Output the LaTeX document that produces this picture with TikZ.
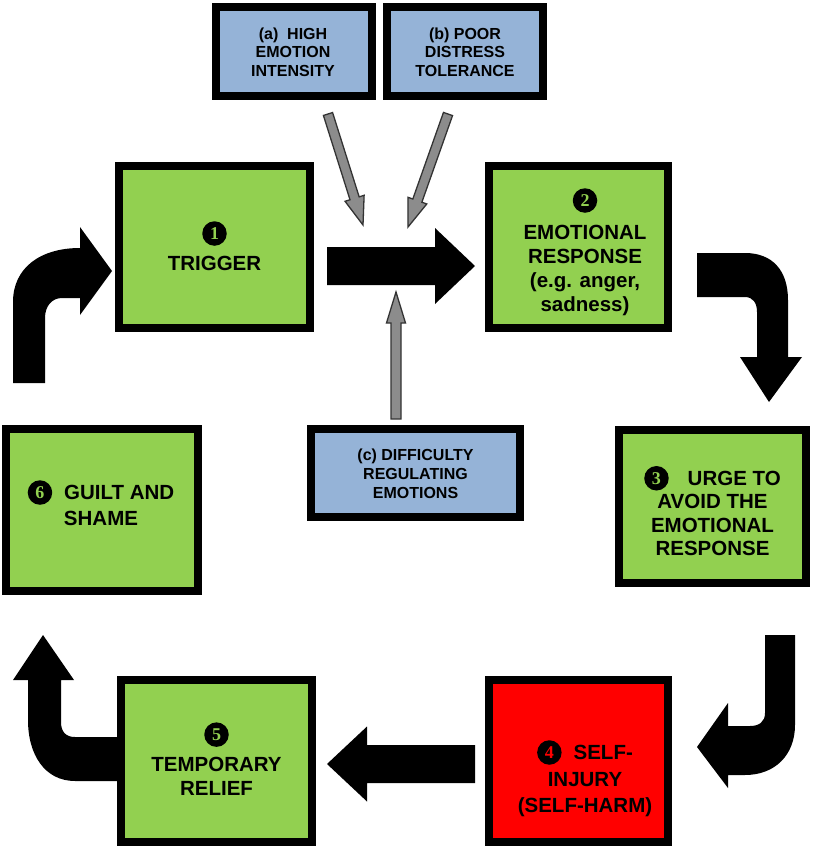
\documentclass[tikz,border=0pt]{standalone}
\usepackage{fontspec}
\setmainfont{Liberation Sans}
\newfontfamily\digitfont{Liberation Serif}
\usetikzlibrary{calc}
\definecolor{boxgreen}{HTML}{92D050}
\definecolor{boxblue}{HTML}{95B3D7}
\definecolor{boxred}{HTML}{FF0000}
\definecolor{arrgray}{HTML}{8C8C8C}
\newcommand\numdot[2]{\tikz[baseline={([yshift=-7pt]nd.center)}]\node[circle,fill=black,inner sep=0pt,minimum size=24.5pt,text=#2,font=\digitfont\fontsize{18}{18}\selectfont](nd){#1};}
\newcommand\blockarrow[6]{%
  \coordinate (hb) at ($(#3)!#6!(#2)$);
  \path[#1] ($(#2)!#4!90:(#3)$) -- ($(hb)!#4!90:(#3)$) -- ($(hb)!#5!90:(#3)$) -- (#3)
    -- ($(hb)!#5!-90:(#3)$) -- ($(hb)!#4!-90:(#3)$) -- ($(#2)!#4!-90:(#3)$) -- cycle;}
\tikzset{
  box/.style={draw=black,line width=8pt,rectangle,inner sep=0pt},
  txt/.style={align=center,inner sep=0pt,font=\bfseries\fontsize{20.5}{24}\selectfont},
  btxt/.style={align=center,inner sep=0pt,font=\bfseries\fontsize{16}{18.5}\selectfont},
  blackarr/.style={fill=black},
  grayarr/.style={fill=arrgray,draw=black!80,line width=1.3pt,line join=miter},
}
\begin{document}
\begin{tikzpicture}[x=1pt,y=-1pt]
\useasboundingbox (0,0) rectangle (815,847);
% curved arrows
\fill[black] (13,383) -- (13,302) .. controls (13,268) and (40,248) .. (80,248) -- (80,227) -- (112,271)
  -- (80,315) -- (80,298) -- (62,298) .. controls (52,298) and (45,306) .. (45,318) -- (45,383) -- cycle;
\fill[black] (697,253) -- (745,253) .. controls (772,253) and (788,270) .. (788,300) -- (788,357)
  -- (802,357) -- (769,402) -- (740,357) -- (757,357) -- (757,312) .. controls (757,303) and (753,297) .. (745,297)
  -- (697,297) -- cycle;
\fill[black] (765,635) -- (795,635) -- (795,725) .. controls (795,755) and (775,775) .. (745,775)
  -- (728,775) -- (728,788) -- (697,747) -- (728,703) -- (728,726) -- (750,726)
  .. controls (759,726) and (765,722) .. (765,713) -- cycle;
\fill[black] (120,737) -- (75,737) .. controls (66,737) and (61,732) .. (61,722) -- (61,680) -- (74,680)
  -- (43,635) -- (13,680) -- (28,680) -- (28,720) .. controls (28,755) and (45,781) .. (75,781) -- (120,781) -- cycle;
% boxes
\node[box,fill=boxgreen,minimum width=191pt,minimum height=162pt] (b1) at (214.5,247) {};
\node[box,fill=boxgreen,minimum width=179pt,minimum height=162pt] (b2) at (578.5,247) {};
\node[box,fill=boxgreen,minimum width=187pt,minimum height=153pt] (b3) at (712.5,506.5) {};
\node[box,fill=boxred,minimum width=179pt,minimum height=162pt] (b4) at (578.5,761) {};
\node[box,fill=boxgreen,minimum width=191pt,minimum height=162pt] (b5) at (216.5,761) {};
\node[box,fill=boxgreen,minimum width=192pt,minimum height=162pt] (b6) at (102,510) {};
\node[box,fill=boxblue,minimum width=156pt,minimum height=89pt] (fa) at (294,51.5) {};
\node[box,fill=boxblue,minimum width=156pt,minimum height=89pt] (fb) at (465,51.5) {};
\node[box,fill=boxblue,minimum width=209pt,minimum height=88pt] (fc) at (415.5,473) {};
% texts
\node[txt] (t1) at (214.5,246) {\numdot{1}{boxgreen}\\[6pt]TRIGGER};
\node[txt] (t2) at (585,252) {\numdot{2}{boxgreen}\\[8pt]EMOTIONAL\\RESPONSE\\(e.g. anger,\\sadness)};
\node[txt,font=\bfseries\fontsize{20.5}{23.5}\selectfont] (t3) at (712.5,511) {\numdot{3}{boxgreen}\hspace{19pt}URGE TO\\AVOID THE\\EMOTIONAL\\RESPONSE};
\node[txt,font=\bfseries\fontsize{20.5}{26.5}\selectfont] (t4) at (585,778.5) {\numdot{4}{boxred}\hspace{12pt}SELF-\\INJURY\\(SELF-HARM)};
\node[txt] (t5) at (216.5,759) {\numdot{5}{boxgreen}\\[6pt]TEMPORARY\\RELIEF};
\node[txt,font=\bfseries\fontsize{20.5}{26}\selectfont] (t6) at (101,503) {\numdot{6}{boxgreen}\hspace{12pt}GUILT AND\\SHAME};
\node[btxt] (ta) at (293,52) {(a)~ HIGH\\EMOTION\\INTENSITY};
\node[btxt] (tb) at (465,52) {(b) POOR\\DISTRESS\\TOLERANCE};
\node[btxt,font=\bfseries\fontsize{16}{19}\selectfont] (tc) at (415.5,474) {(c) DIFFICULTY\\REGULATING\\EMOTIONS};
% straight black arrows
\coordinate (s12) at ($(b1.east)+(13,19)$);
\coordinate (e12) at ($(b2.west)+(-10,19)$);
\blockarrow{blackarr}{s12}{e12}{19pt}{38pt}{40pt}
\coordinate (s45) at ($(b4.west)+(-10,3)$);
\coordinate (e45) at ($(b5.east)+(11,3)$);
\blockarrow{blackarr}{s45}{e45}{19pt}{37.5pt}{40pt}
% gray arrows
\coordinate (ga0) at ($(fa.south)+(34,14)$);
\coordinate (ga1) at (363,225);
\blockarrow{grayarr}{ga0}{ga1}{4.8pt}{10pt}{28pt}
\coordinate (gb0) at ($(fb.south)+(-17,14)$);
\coordinate (gb1) at (408,227);
\blockarrow{grayarr}{gb0}{gb1}{4.8pt}{10pt}{28pt}
\coordinate (gc0) at ($(fc.north)+(-19.5,-6)$);
\coordinate (gc1) at (396,292);
\blockarrow{grayarr}{gc0}{gc1}{5pt}{9.5pt}{31pt}
\end{tikzpicture}
\end{document}
